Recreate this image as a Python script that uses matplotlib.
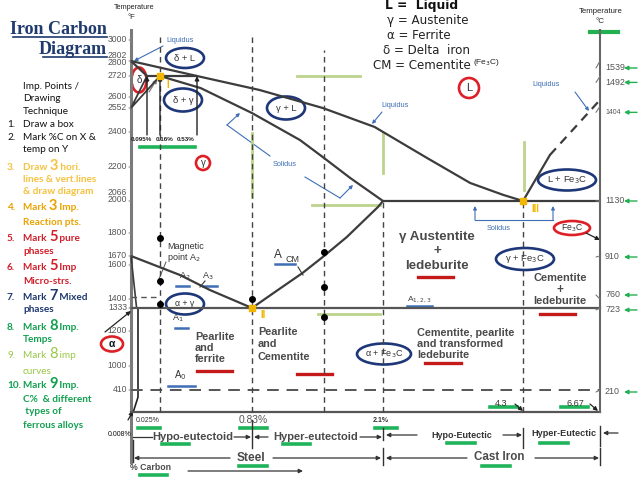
import numpy as np
import matplotlib
matplotlib.use("Agg")
import matplotlib.pyplot as plt
from matplotlib.patches import Ellipse

plt.rcParams['font.family'] = ['Liberation Sans', 'DejaVu Sans']

# ---------------- data (schematic Fe-C diagram, %C and deg F) ----------------
# knots of the drawing's non-linear composition / temperature scales
C_KNOTS = [0, 0.025, 0.095, 0.16, 0.53, 0.83, 1.4, 2.1, 4.3, 6.67]
C_PIX = [131, 138, 147, 160, 197, 252, 324, 383, 523, 600]
F_KNOTS = [70, 410, 1000, 1200, 1333, 1400, 1600, 1670, 1800, 2066, 2200, 2400,
           2552, 2600, 2720, 2802, 3000, 3100]
F_PIX = [412, 390, 366, 331, 308, 299, 265, 256, 233, 201, 167, 132, 108, 97, 76,
         61, 40, 30]

liq_c = [0, 0.53, 0.89, 1.39, 2.0, 2.79, 3.47, 3.99, 4.3]
liq_f = [2802, 2720, 2640, 2552, 2432, 2252, 2137, 2090, 2066]
sol_c = [0.16, 0.55, 0.83, 1.21, 1.39, 1.71, 2.1]
sol_f = [2720, 2651, 2520, 2354, 2257, 2157, 2066]
acm_c = [0.83, 1.0, 1.23, 1.39, 1.67, 2.04, 2.1]
acm_f = [1333, 1435, 1553, 1662, 1777, 2016, 2066]
a3_c = [0, 0.36, 0.6, 0.83]
a3_f = [1670, 1541, 1453, 1333]
alpha_c = [0, 0.02]
alpha_f = [1670, 1333]
solvus_c = [0.025, 0.025, 0.008]
solvus_f = [1333, 300, 70]
delta_c = [0.095, 0, 0.16]
delta_f = [2720, 2552, 2720]
delta_top_c = [0, 0.095]
delta_top_f = [2802, 2720]
peritectic_c = [0.095, 0.53]
eutectic_c = [2.1, 6.67]
eutectoid_c = [0, 6.67]
liq_right_c = [4.3, 5.13]
liq_right_f = [2066, 2269]
liq_right_dash_c = [5.13, 6.61]
liq_right_dash_f = [2269, 2578]
T_PERITECTIC, T_EUTECTIC, T_EUTECTOID, T_A0, T_A2 = 2720, 2066, 1333, 410, 1414

vline_c = [0.16, 0.83, 1.4, 2.1, 4.3]
vline_top = [3070, 3070, 2906, 2066, 2066]

dot_c = [0.16, 0.16, 0.16, 0.83, 1.4, 1.4, 1.4]
dot_f = [1772, 1506, 1363, 1400, 1693, 1471, 1281]

key_c = [0.16, 0.83, 4.3]
key_f = [2720, 1333, 2066]
key_names = ['I', 'II', 'III']

peri_arrow_c = [0.095, 0.16, 0.53]
peri_labels = ['0.095%', '0.16%', '0.53%']

left_ticks = [3000, 2802, 2720, 2600, 2552, 2400, 2200, 2066, 1800, 1670, 1600,
              1400, 1333, 1200, 1000, 410]
left_labels = ['3000', '2802\n2800', '2720', '2600', '2552', '2400', '2200',
               '2066\n2000', '1800', '1670', '1600', '1400', '1333', '1200',
               '1000', '410']
left_shift = [0, 2, 0, 0, 0, 0, 0, 5, 0, 0, 0, 0, 0, 0, 0, 0]

right_c = [1539, 1492, 1404, 1130, 910, 760, 723, 210]
right_shift = [-7, -6, -6, 0, -1, 4, -2, -2]

# ---------------- figure ----------------
fig = plt.figure(figsize=(6.38, 4.79), dpi=100)
cv = fig.add_axes([0, 0, 1, 1])
cv.set_xlim(0, 638)
cv.set_ylim(479, 0)
cv.axis('off')

dax = fig.add_axes([131 / 638, 1 - 412 / 479, (600 - 131) / 638, (412 - 30) / 479])
CK, CP = np.array(C_KNOTS, float), np.array(C_PIX, float)
FK, FP = np.array(F_KNOTS, float), np.array(F_PIX, float)


def cfwd(c):
    return np.interp(c, CK, CP)


def cinv(p):
    return np.interp(p, CP, CK)


def ffwd(f):
    return -np.interp(f, FK, FP)


def finv(v):
    return np.interp(-np.asarray(v), FP[::-1], FK[::-1])


dax.set_xscale('function', functions=(cfwd, cinv))
dax.set_yscale('function', functions=(ffwd, finv))
dax.set_xlim(0, 6.67)
dax.set_ylim(70, 3100)
dax.axis('off')

LC = '#3c3c3c'
lk = dict(color=LC, lw=1.6, clip_on=False, solid_capstyle='round')
dax.plot(liq_c, liq_f, **lk)
dax.plot(sol_c, sol_f, **lk)
dax.plot(acm_c, acm_f, **lk)
dax.plot(a3_c, a3_f, **lk)
dax.plot(alpha_c, alpha_f, color=LC, lw=1.2, clip_on=False)
dax.plot(solvus_c, solvus_f, color='#222', lw=1.2, clip_on=False)
dax.plot(delta_c, delta_f, color=LC, lw=1.3, clip_on=False)
dax.plot(delta_top_c, delta_top_f, **lk)
dax.plot(peritectic_c, [T_PERITECTIC] * 2, **lk)
dax.plot(eutectic_c, [T_EUTECTIC] * 2, **lk)
dax.plot(eutectoid_c, [T_EUTECTOID] * 2, color='#555', lw=1.6, clip_on=False)
dax.plot(liq_right_c, liq_right_f, **lk)
dax.plot(liq_right_dash_c, liq_right_dash_f, color=LC, lw=1.6, dashes=(4, 3), clip_on=False)
dax.plot([0, 6.67], [T_A0] * 2, color='#555', lw=1.4, dashes=(6, 4), clip_on=False)
dax.plot([0, 0.16], [T_A2] * 2, color='#555', lw=1.0, dashes=(4, 3), clip_on=False)
dax.plot([0, 6.67], [70, 70], color='#555', lw=1.6, clip_on=False)
dax.plot([6.67, 6.67], [70, 3100], color='#666', lw=1.5, clip_on=False)
for c, top in zip(vline_c, vline_top):
    dax.plot([c, c], [70, top], color='#444', lw=1.0, dashes=(4, 3), clip_on=False)
dax.scatter(dot_c, dot_f, s=16, color='black', zorder=5, clip_on=False)
dax.scatter(key_c, key_f, s=18, marker='s', color='#f2b600', zorder=6, clip_on=False)
for c, f, n, dx, dy in zip(key_c, key_f, key_names, [6, 8, 8], [-9, -7, -8]):
    dax.annotate(n, (c, f), xytext=(dx, dy), textcoords='offset pixels',
                 color='#f2b600', fontsize=7, fontweight='bold', ha='left', va='center',
                 annotation_clip=False)
for c in peri_arrow_c:
    dax.annotate('', xy=(c, T_PERITECTIC), xytext=(c, 2383),
                 arrowprops=dict(arrowstyle='-|>', color='#222', lw=1.0,
                                 mutation_scale=6, shrinkA=0, shrinkB=0),
                 annotation_clip=False)
for c, lab, dx in zip(peri_arrow_c, peri_labels, [-6, 5, -11]):
    dax.annotate(lab, (c, 2383), xytext=(dx, -5), textcoords='offset pixels',
                 fontsize=4.5, ha='center', va='center', color='#222',
                 fontweight='bold', annotation_clip=False)
# left temperature labels
for t, lab, sh in zip(left_ticks, left_labels, left_shift):
    dax.annotate(lab, (0, t), xytext=(-4, sh), textcoords='offset pixels',
                 ha='right', va='center', fontsize=6.2, color='#555',
                 linespacing=0.85, annotation_clip=False)
    dax.annotate('', (0, t), xytext=(-2, 0), textcoords='offset pixels',
                 arrowprops=dict(arrowstyle='-', color='#888', lw=0.8, shrinkA=0, shrinkB=0),
                 annotation_clip=False)
# right temperature labels (deg C)
for tc, sh in zip(right_c, right_shift):
    tf = tc * 9 / 5 + 32
    dax.annotate(str(tc), (6.67, tf), xytext=(5, sh), textcoords='offset pixels',
                 ha='left', va='center', fontsize=5 if tc == 1404 else 6.4, color='#555',
                 annotation_clip=False)
    dax.annotate('', (6.67, tf), xytext=(-4, sh), textcoords='offset pixels',
                 arrowprops=dict(arrowstyle='-', color='#777', lw=0.8, shrinkA=0, shrinkB=0),
                 annotation_clip=False)
    ypx = -ffwd(tf) - sh
    cv.annotate('', xy=(624, ypx), xytext=(637, ypx),
                arrowprops=dict(arrowstyle='-|>', color='#22b050', lw=1.0,
                                mutation_scale=6, shrinkA=0, shrinkB=0))

# ---------------- canvas decorations ----------------
cv.plot([131, 131], [30, 462], color='#7a7a7a', lw=2.2)
cv.plot([590, 618], [32, 32], color='#22b050', lw=3)

# Title
cv.text(107, 34, 'Iron Carbon', fontsize=13, fontweight='bold', color='#1f3a6e',
        family='Liberation Serif', ha='right', va='baseline')
cv.text(107, 54, 'Diagram', fontsize=13, fontweight='bold', color='#1f3a6e',
        family='Liberation Serif', ha='right', va='baseline')
cv.plot([13, 107], [36.5, 36.5], color='#1f3a6e', lw=1.2)
cv.plot([43, 107], [56.5, 56.5], color='#1f3a6e', lw=1.2)

cv.text(134, 7, 'Temperature', fontsize=5.2, ha='center', va='center', color='#222')
cv.text(131, 17, '°F', fontsize=5.5, ha='center', va='center', color='#222')
cv.text(601, 11, 'Temperature', fontsize=5.6, ha='center', va='center', color='#222')
cv.text(600, 21, '°C', fontsize=5.8, ha='center', va='center', color='#222')

# legend of symbols
cv.text(385, 5, 'L =  Liquid', fontsize=8.8, fontweight='bold', va='center', color='#111',
        family='DejaVu Sans')
for (x, y, s) in [(387, 20, 'γ = Austenite'), (387, 35, 'α = Ferrite'),
                  (383, 50, 'δ = Delta  iron'), (373, 65, 'CM = Cementite')]:
    cv.text(x, y, s, fontsize=8.6, va='center', color='#222', family='DejaVu Sans')
cv.text(473, 62, '(Fe$_3$C)', fontsize=6, va='center', color='#222')

# left instruction list
rend = fig.canvas.get_renderer()
BLACK, C3, C4, C5, C7, C8, C9 = '#111', '#f5c23e', '#eaa300', '#d01f2a', '#1f3870', '#13a050', '#98c84a'
LIST = [
    (None, 85, [('Imp. Points /', 0)], BLACK, 'normal'),
    (None, 97, [('Drawing', 0)], BLACK, 'normal'),
    (None, 110, [('Technique', 0)], BLACK, 'normal'),
    ('1.', 123, [('Draw a box', 0)], BLACK, 'normal'),
    ('2.', 136, [('Mark %C on X &', 0)], BLACK, 'normal'),
    (None, 148, [('temp on Y', 0)], BLACK, 'normal'),
    ('3.', 166, [('Draw ', 0), ('3', 1), (' hori.', 0)], C3, 'bold'),
    (None, 178, [('lines & vert.lines', 0)], C3, 'bold'),
    (None, 191, [('& draw diagram', 0)], C3, 'bold'),
    ('4.', 207, [('Mark ', 0), ('3', 1), (' Imp.', 0)], C4, 'bold'),
    (None, 221, [('Reaction pts.', 0)], C4, 'bold'),
    ('5.', 237, [('Mark ', 0), ('5', 1), (' pure', 0)], C5, 'bold'),
    (None, 250, [('phases', 0)], C5, 'bold'),
    ('6.', 267, [('Mark ', 0), ('5', 1), (' Imp', 0)], C5, 'bold'),
    (None, 280, [('Micro-strs.', 0)], C5, 'bold'),
    ('7.', 296, [('Mark ', 0), ('7', 1), (' Mixed', 0)], C7, 'bold'),
    (None, 309, [('phases', 0)], C7, 'bold'),
    ('8.', 326, [('Mark ', 0), ('8', 1), (' Imp.', 0)], C8, 'bold'),
    (None, 339, [('Temps', 0)], C8, 'bold'),
    ('9.', 355, [('Mark ', 0), ('8', 1), (' imp', 0)], C9, 'normal'),
    (None, 370, [('curves', 0)], C9, 'normal'),
    ('10.', 385, [('Mark ', 0), ('9', 1), (' Imp.', 0)], C8, 'bold'),
    (None, 398, [('C%  & different', 0)], C8, 'bold'),
    (None, 411, [(' types of', 0)], C8, 'bold'),
    (None, 424, [('ferrous alloys', 0)], C8, 'bold'),
]


def measure(s, size, weight):
    t1 = cv.text(0, 0, s + '|', fontsize=size, fontweight=weight, family='Lato')
    t2 = cv.text(0, 0, '|', fontsize=size, fontweight=weight, family='Lato')
    w = t1.get_window_extent(rend).width - t2.get_window_extent(rend).width
    t1.remove()
    t2.remove()
    return w


for num, y, parts, col, wt in LIST:
    yb = y + 3.5
    if num:
        cv.text(7, yb, num, fontsize=7.2, fontweight=wt, color=col, family='Lato', va='baseline')
    x = 23
    for s, big in parts:
        size = 10.5 if big else 7.2
        cv.text(x, yb, s, fontsize=size, fontweight=wt, color=col, family='Lato', va='baseline')
        x += measure(s, size, wt)

# ellipses (mixed phases = navy, pure phases = red)
NAVY, RED = '#1d3778', '#dd1f26'
ELL = [((185, 58), 38, 20, 'δ + L', NAVY, 6.8), ((183, 100), 38, 23, 'δ + γ', NAVY, 6.8),
       ((286, 108), 38, 23, 'γ + L', NAVY, 6.8), ((567, 180), 58, 21, 'L + Fe$_3$C', NAVY, 6.8),
       ((525, 259), 58, 22, 'γ + Fe$_3$C', NAVY, 6.8), ((185, 304), 38, 21, 'α + γ', NAVY, 6.3),
       ((384, 354), 54, 21, 'α + Fe$_3$C', NAVY, 6.5),
       ((139, 80), 15, 25, 'δ', RED, 7), ((203, 163), 14, 14, 'γ', RED, 7),
       ((469, 88), 20, 20, 'L', RED, 8), ((572, 228), 36, 14, 'Fe$_3$C', RED, 6.2),
       ((112, 344), 22, 15, 'α', RED, 7.5)]
for (cx, cy), w, h, s, col, fs in ELL:
    cv.add_patch(Ellipse((cx, cy), w, h, fill=False, ec=col, lw=1.9))
    cv.text(cx, cy, s, fontsize=fs, ha='center', va='center',
            color='#111' if s == 'α' else '#333', fontweight='bold' if s == 'α' else 'normal')

# microstructure labels
GR = '#4a4a4a'
for (x, y, s, fs) in [(437, 237, 'γ Austentite', 9.6), (437, 251, '+', 9.6), (437, 266, 'ledeburite', 9.6),
                      (560, 278, 'Cementite', 7.9), (560, 290, '+', 8.5), (560, 301, 'ledeburite', 7.9)]:
    cv.text(x, y, s, fontsize=fs, fontweight='bold', color=GR, ha='center', va='center')
for (x, y, s) in [(195, 337, 'Pearlite'), (195, 348, 'and'), (195, 359, 'ferrite'),
                  (258, 332, 'Pearlite'), (258, 344, 'and'), (258, 357, 'Cementite'),
                  (417, 333, 'Cementite, pearlite'), (417, 344, 'and transformed'),
                  (417, 355, 'ledeburite')]:
    cv.text(x, y, s, fontsize=7.8, fontweight='bold', color=GR, ha='left', va='center')
for (x1, x2, y) in [(418, 453, 277), (540, 575, 314), (197, 232, 371), (297, 332, 374), (425, 461, 363)]:
    cv.plot([x1, x2], [y, y], color='#c41a1a', lw=2.4)

# A-lines labels
BLUE = '#3f6fb5'
cv.text(167, 246, 'Magnetic', fontsize=6.5, color='#333', va='center')
cv.text(167, 258, 'point A$_2$', fontsize=6.5, color='#333', va='center')
cv.plot([166, 159], [262, 279], color='#555', lw=0.7)
cv.text(185, 276, 'A$_2$', fontsize=6.5, color='#333', ha='center', va='center')
cv.text(208, 276, 'A$_3$', fontsize=6.5, color='#333', ha='center', va='center')
cv.text(178, 318, 'A$_1$', fontsize=6.5, color='#333', ha='center', va='center')
cv.text(180, 375, 'A$_0$', fontsize=7, color='#333', ha='center', va='center')
cv.text(278, 255, 'A', fontsize=8.5, color='#333', ha='center', va='center')
cv.text(293, 259, 'CM', fontsize=6.5, color='#333', ha='center', va='center')
cv.plot([298, 303], [267, 275], color='#333', lw=0.8)
cv.plot([205, 200], [281, 287], color='#333', lw=0.8)
cv.text(419, 300, 'A$_{1,2,3}$', fontsize=6, color='#444', ha='center', va='center')
for (x1, x2, y) in [(176, 189, 286), (203, 217, 286), (175, 188, 328), (168, 195, 386),
                    (275, 295, 264), (407, 432, 306)]:
    cv.plot([x1, x2], [y, y], color=BLUE, lw=1.8)

# liquidus / solidus pointers
ak = dict(arrowstyle='-|>', color=BLUE, lw=0.8, mutation_scale=5, shrinkA=0, shrinkB=0)
cv.text(180, 40, 'Liquidus', fontsize=5.3, color=BLUE, ha='center', va='center')
cv.annotate('', xy=(134, 61), xytext=(163, 46), arrowprops=ak)
cv.text(395, 105, 'Liquidus', fontsize=5.3, color=BLUE, ha='center', va='center')
cv.annotate('', xy=(372, 124), xytext=(382, 112), arrowprops=ak)
cv.text(546, 84, 'Liquidus', fontsize=5.3, color=BLUE, ha='center', va='center')
cv.annotate('', xy=(589, 111), xytext=(575, 92), arrowprops=ak)
cv.text(285, 164, 'Solidus', fontsize=5.3, color=BLUE, ha='center', va='center')
cv.plot([270, 227], [156, 125], color=BLUE, lw=0.8)
cv.annotate('', xy=(240, 113), xytext=(227, 125), arrowprops=ak)
cv.plot([305, 340], [177, 198], color=BLUE, lw=0.8)
cv.annotate('', xy=(353, 185), xytext=(340, 198), arrowprops=ak)
cv.text(499, 228, 'Solidus', fontsize=5.3, color=BLUE, ha='center', va='center')
cv.plot([475, 553], [220, 220], color=BLUE, lw=0.8)
cv.annotate('', xy=(475, 206), xytext=(475, 220), arrowprops=ak)
cv.annotate('', xy=(553, 206), xytext=(553, 220), arrowprops=ak)

# misc black pointers
bk = dict(arrowstyle='-|>', color='#222', lw=0.9, mutation_scale=6, shrinkA=0, shrinkB=0)
cv.annotate('', xy=(131, 311), xytext=(105, 332), arrowprops=bk)
cv.annotate('', xy=(157, 79), xytext=(149, 92), arrowprops=dict(bk, color='#777'))
cv.annotate('', xy=(600, 240), xytext=(586, 233), arrowprops=bk)
cv.annotate('', xy=(523, 411), xytext=(515, 404), arrowprops=bk)
cv.annotate('', xy=(598, 411), xytext=(590, 404), arrowprops=bk)
cv.annotate('', xy=(133, 411), xytext=(128, 420), arrowprops=bk)

# light green construction lines
LG = '#bcd48c'
for (xs, ys) in [([252, 252], [133, 197]), ([297, 360], [76, 76]), ([383, 383], [133, 173]),
                 ([312, 380], [205, 205]), ([524, 524], [142, 190]), ([318, 380], [314, 314])]:
    cv.plot(xs, ys, color=LG, lw=2)

# bottom composition marks
cv.text(501, 403, '4.3', fontsize=6.5, color='#333', ha='center', va='center')
cv.text(575, 403, '6.67', fontsize=6.5, color='#333', ha='center', va='center')
cv.text(148, 420, '0.025%', fontsize=5, color='#333', ha='center', va='center')
cv.text(253, 420, '0.83%', fontsize=7.4, color='#555', ha='center', va='center')
cv.text(381, 420, '2.1%', fontsize=5, color='#333', ha='center', va='center', fontweight='bold')
cv.text(131, 435, '0.008%', fontsize=5, color='#111', ha='right', va='center')

GREEN = '#1fb35a'
for (x1, x2, y) in [(140, 195, 147), (138, 160, 428), (240, 267, 428), (375, 397, 428),
                    (162, 189, 444), (283, 310, 444), (239, 267, 466), (140, 167, 475),
                    (447, 475, 443), (540, 568, 443), (482, 510, 466), (490, 517, 407),
                    (561, 588, 407)]:
    cv.plot([x1, x2], [y, y], color=GREEN, lw=2.6)

# classification rows
TX = '#4a4a4a'
cv.text(193, 437, 'Hypo-eutectoid', fontsize=8, fontweight='bold', color=TX, ha='center', va='center')
cv.text(316, 437, 'Hyper-eutectoid', fontsize=8, fontweight='bold', color=TX, ha='center', va='center')
cv.text(462, 435, 'Hypo-Eutectic', fontsize=6.5, fontweight='bold', color='#333', ha='center', va='center')
cv.text(564, 433, 'Hyper-Eutectic', fontsize=6.6, fontweight='bold', color='#333', ha='center', va='center')
cv.text(251, 458, 'Steel', fontsize=8.6, fontweight='bold', color=TX, ha='center', va='center')
cv.text(499, 457, 'Cast Iron', fontsize=8.4, fontweight='bold', color=TX, ha='center', va='center')
cv.text(150, 467, '% Carbon', fontsize=6.3, fontweight='bold', color=TX, ha='center', va='center')

rk = dict(arrowstyle='-|>', color='#333', lw=0.9, mutation_scale=6, shrinkA=0, shrinkB=0)
for (x1, x2, y) in [(234, 251, 437), (360, 382, 437), (268, 254, 437), (417, 386, 435),
                    (503, 522, 435), (618, 603, 433), (230, 134, 458), (273, 381, 458),
                    (467, 386, 458), (535, 599, 458), (188, 303, 471)]:
    cv.annotate('', xy=(x2, y), xytext=(x1, y), arrowprops=rk)
cv.plot([133, 152], [437, 437], color='#333', lw=0.9)
for (x, y1, y2) in [(252, 420, 448), (383, 428, 440), (523, 428, 448), (600, 426, 446),
                    (133, 440, 462), (383, 448, 465), (600, 448, 465)]:
    cv.plot([x, x], [y1, y2], color='#333', lw=1.0)

fig.savefig('out.png', dpi=100)
